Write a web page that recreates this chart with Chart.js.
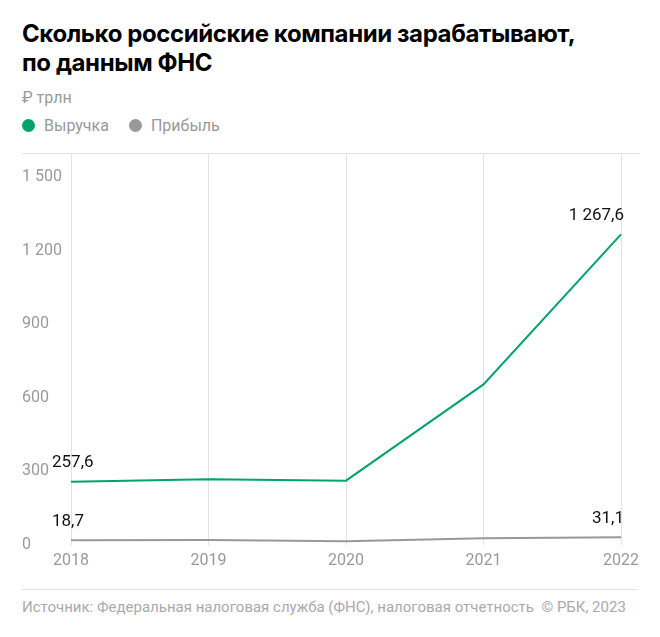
<!DOCTYPE html>
<html><head><meta charset="utf-8">
<script src="https://cdn.jsdelivr.net/npm/chart.js@4"></script>
<style>
body{margin:0;background:#fff;font-family:Roboto,"Noto Sans",sans-serif;width:660px;height:637px;overflow:hidden;position:relative}
h1{position:absolute;left:22px;top:19px;margin:0;font-family:Inter,Roboto,sans-serif;font-size:24px;line-height:29px;font-weight:700;color:#000;letter-spacing:-0.4px}
.unit{position:absolute;left:22px;top:88px;font-size:16px;color:#999}
.legend{position:absolute;left:22px;top:116px;font-size:16px;color:#999}
.legend span{margin-right:20px}
.legend i{display:inline-block;width:13px;height:13px;border-radius:50%;margin-right:9px;vertical-align:-1px}
#wrap{position:absolute;left:0;top:140px;width:660px;height:440px}
.foot{position:absolute;left:22px;right:22px;top:589px;border-top:1px solid #e3e3e3;padding-top:8px;font-size:15px;color:#aaa}
</style></head><body>
<h1>Сколько российские компании зарабатывают,<br>по данным ФНС</h1>
<div class="unit">₽ трлн</div>
<div class="legend"><span><i style="background:#00a36c"></i>Выручка</span><span><i style="background:#999"></i>Прибыль</span></div>
<div id="wrap"><canvas id="c"></canvas></div>
<div class="foot">Источник: Федеральная налоговая служба (ФНС), налоговая отчетность&nbsp; © РБК, 2023</div>
<script>
const years = ["2018", "2019", "2020", "2021", "2022"];
const revenue = [257.6, 268, 262, 655, 1267.6];
const profit = [18.7, 19.5, 14, 27, 31.1];
const yTicks = [0, 300, 600, 900, 1200, 1500];

function thousands(s) {
	return s.replace(/\B(?=(\d{3})+(?!\d))/g, " ");
}
function fmt(v) {
	return thousands(v.toFixed(1).replace(".", ","));
}

const extras = {
	id: "extras",
	afterDraw(chart) {
		const c = chart.ctx, a = chart.chartArea;
		c.save();
		c.strokeStyle = "#e3e3e3";
		c.lineWidth = 1;
		c.beginPath();
		c.moveTo(22, a.top + 0.5);
		c.lineTo(640, a.top + 0.5);
		c.stroke();
		c.font = "17px Roboto";
		c.fillStyle = "#111";
		c.textBaseline = "bottom";
		chart.data.datasets.forEach((ds, i) => {
			const pts = chart.getDatasetMeta(i).data;
			const first = pts[0], last = pts[pts.length - 1];
			c.textAlign = "left";
			c.fillText(fmt(ds.data[0]), first.x - 19, first.y - 10);
			c.textAlign = "right";
			c.fillText(fmt(ds.data[ds.data.length - 1]), last.x + 3, last.y - 10);
		});
		c.restore();
	}
};

new Chart(document.getElementById("c"), {
	type: "line",
	data: {
		labels: years,
		datasets: [
			{ data: revenue, borderColor: "#00a36c", borderWidth: 2, pointRadius: 0, tension: 0 },
			{ data: profit, borderColor: "#999", borderWidth: 2, pointRadius: 0, tension: 0 }
		]
	},
	options: {
		responsive: true,
		maintainAspectRatio: false,
		animation: false,
		layout: { padding: { left: 22, right: 39, top: 13, bottom: 2 } },
		plugins: { legend: { display: false }, tooltip: { enabled: false } },
		scales: {
			x: {
				grid: { color: "#e3e3e3", drawTicks: false },
				border: { display: false },
				ticks: { color: "#999", font: { size: 16, family: "Roboto" }, padding: 7 }
			},
			y: {
				min: 0, max: 1600,
				afterBuildTicks: s => { s.ticks = yTicks.map(v => ({ value: v })); },
				afterFit: s => { s.width = 49; },
				grid: { display: false },
				border: { display: false },
				ticks: { color: "#999", font: { size: 16, family: "Roboto" }, crossAlign: "far", padding: 0, callback: v => thousands(String(v)) }
			}
		}
	},
	plugins: [extras]
});
</script>
</body></html>
